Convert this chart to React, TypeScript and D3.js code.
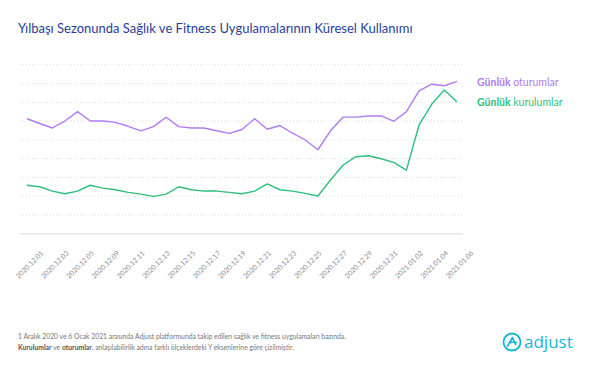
import React from "react";
import * as d3 from "d3";

// 2020.12.07 and 2020.12.08 are not in the source series
const dates = [
  "2020.12.01", "2020.12.02", "2020.12.03", "2020.12.04", "2020.12.05", "2020.12.06",
  "2020.12.09", "2020.12.10", "2020.12.11", "2020.12.12", "2020.12.13", "2020.12.14",
  "2020.12.15", "2020.12.16", "2020.12.17", "2020.12.18", "2020.12.19", "2020.12.20",
  "2020.12.21", "2020.12.22", "2020.12.23", "2020.12.24", "2020.12.25", "2020.12.26",
  "2020.12.27", "2020.12.28", "2020.12.29", "2020.12.30", "2020.12.31", "2021.01.01",
  "2021.01.02", "2021.01.03", "2021.01.04", "2021.01.05", "2021.01.06",
];

const sessions = [
  61.2, 58.7, 56.3, 60.0, 65.0, 60.0, 60.0, 59.3, 57.2, 54.8, 57.0, 62.0,
  57.0, 56.3, 56.3, 54.8, 53.4, 55.5, 61.2, 55.6, 57.6, 53.5, 49.9, 44.7,
  54.8, 62.1, 62.1, 62.7, 62.7, 59.9, 65.0, 76.0, 79.6, 78.8, 81.1,
];

const installs = [
  25.8, 25.0, 22.7, 21.3, 22.7, 25.8, 24.3, 23.4, 22.0, 21.1, 19.9, 21.1,
  25.0, 23.4, 22.7, 22.7, 22.0, 21.3, 22.7, 26.5, 23.4, 22.7, 21.5, 20.1,
  28.6, 36.6, 41.0, 41.5, 39.9, 38.0, 33.9, 57.9, 68.9, 76.5, 70.1,
];

const gridValues = [10, 20, 30, 40, 50, 60, 70, 80, 90];

const PURPLE = "#b07cf4";
const GREEN = "#2fbf7c";
const TITLE = "#2b3d98";
const CYAN = "#12b8d6";

export default function App() {
  const W = 591, H = 366;
  const x = d3.scalePoint<string>().domain(dates).range([27, 457]);
  const y = d3.scaleLinear().domain([0, 90]).range([233.7, 64.7]);
  const line = d3.line<number>()
    .x((_, i) => x(dates[i]) as number)
    .y(d => y(d));

  const tickDates = dates.filter((_, i) => i % 2 === 0);

  return (
    <svg width={W} height={H} style={{ display: "block", position: "absolute", left: 0, top: 0, background: "#fff" }}
      fontFamily="Lato, 'Open Sans', sans-serif">
      <text x={18} y={33} fontSize={13} fill={TITLE}>
        Yılbaşı Sezonunda Sağlık ve Fitness Uygulamalarının Küresel Kullanımı
      </text>

      {gridValues.map(v => (
        <line key={v} x1={20} x2={463} y1={y(v)} y2={y(v)}
          stroke="#dcdcdc" strokeWidth={1} strokeDasharray="1,2" />
      ))}
      <line x1={20} x2={463} y1={y(0)} y2={y(0)} stroke="#e6e6e6" strokeWidth={1.5} />

      <path d={line(sessions) || ""} fill="none" stroke={PURPLE} strokeWidth={1.4} strokeLinejoin="round" />
      <path d={line(installs) || ""} fill="none" stroke={GREEN} strokeWidth={1.4} strokeLinejoin="round" />

      {tickDates.map(d => (
        <text key={d} fontSize={7} fill="#8e8e9a" textAnchor="end"
          transform={`translate(${(x(d) as number) + 17},${y(0) + 20}) rotate(-45)`}>
          {d}
        </text>
      ))}

      <text x={477} y={86} fontSize={10.5} fill={PURPLE}>
        <tspan fontWeight="bold">Günlük</tspan> oturumlar
      </text>
      <text x={477} y={106} fontSize={10.5} fill={GREEN}>
        <tspan fontWeight="bold">Günlük</tspan> kurulumlar
      </text>

      <text x={18} y={339} fontSize={6.8} fill="#777">
        1 Aralık 2020 ve 6 Ocak 2021 arasında Adjust platformunda takip edilen sağlık ve fitness uygulamaları bazında.
      </text>
      <text x={18} y={350} fontSize={6.8} fill="#777">
        <tspan fontWeight="bold" fill="#555">Kurulumlar</tspan> ve <tspan fontWeight="bold" fill="#555">oturumlar</tspan>, anlaşılabilirlik adına farklı ölçeklerdeki Y eksenlerine göre çizilmiştir.
      </text>

      <g transform="translate(512,342)">
        <circle r={8.5} fill="none" stroke={CYAN} strokeWidth={1.8} />
        <path d="M-4.5,4 L0.5,-4.5 L3.5,2.5 M-2.5,1 Q1,-1 4.5,0.5" fill="none" stroke={CYAN} strokeWidth={1.6}
          strokeLinecap="round" strokeLinejoin="round" />
      </g>
      <text x={524} y={348} fontSize={17} fill={CYAN} fontFamily="'Open Sans', sans-serif">adjust</text>
    </svg>
  );
}
